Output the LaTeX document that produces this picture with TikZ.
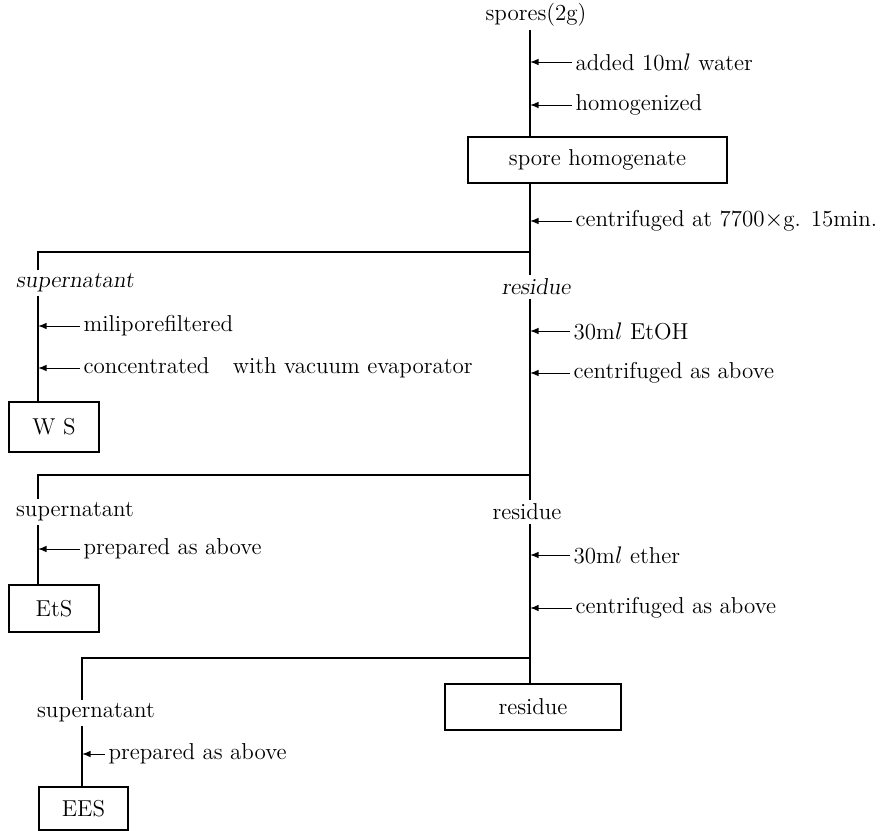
\documentclass[tikz,border=0pt]{standalone}
\usepackage{amssymb}
\usetikzlibrary{positioning}
\usetikzlibrary{calc}
\usetikzlibrary{arrows}

\begin{document}
\begin{tikzpicture}[x=0.5pt,y=-0.5pt,line width=0.7pt,
  every node/.style={font=\fontsize{11.5}{13}\selectfont,inner sep=1.5pt},
  note/.style={anchor=west},
  stage/.style={draw,inner sep=0pt},
  addarrow/.style={-latex,line width=0.5pt}]
\useasboundingbox (0,0) rectangle (896,831);
\coordinate (mx) at (530,0);
\coordinate (lx) at (38,0);
\coordinate (lxb) at (82,0);
\coordinate (cutA) at (530,252);
\coordinate (cutB) at (530,475);
\coordinate (cutC) at (530,658);

\node[](spores) at (536,15){spores(2g)};
\node[note](addW) at (572,62){added 10m$l$ water};
\node[note](homoW) at (572,105){homogenized};
\node[stage,minimum width=129.5pt,minimum height=23pt](homog) at (597.5,160){spore homogenate};
\node[note](cenA) at (572,221){centrifuged at 7700$\times$g. 15min.};
\node[](supA) at (75,283){\slshape supernatant};
\node[](resA) at (536,287){\slshape residue};
\node[note](milW) at (80,326){miliporefiltered};
\node[note](conW) at (80,368){concentrated\hspace{8pt} with vacuum evaporator};
\node[note](etoh) at (570,331){30m$l$ EtOH};
\node[note](cenB) at (570,373){centrifuged as above};
\node[stage,minimum width=45pt,minimum height=25pt](ws) at (54,427){W S};
\node[](supB) at (75,512){supernatant};
\node[](resB) at (527,512){residue};
\node[note](prepB) at (80,549){prepared as above};
\node[note](ether) at (570,555){30m$l$ ether};
\node[note](cenC) at (572,608){centrifuged as above};
\node[stage,minimum width=45pt,minimum height=23.5pt](ets) at (54,608.5){EtS};
\node[stage,minimum width=88pt,minimum height=23pt](resC) at (533,707){residue};
\node[](supC) at (96,713){supernatant};
\node[note](prepC) at (105,754){prepared as above};
\node[stage,minimum width=44.5pt,minimum height=21.5pt](ees) at (83.5,808.5){EES};

% main line
\path
(spores.south -| mx) edge[] (homog.north -| mx)
(homog.south -| mx) edge[] (resA.north -| mx)
(resA.south -| mx) edge[] (resB.north -| mx)
(resB.south -| mx) edge[] (resC.north -| mx);

% branches
\draw (cutA) -| (supA.north -| lx);
\draw (cutB) -| (supB.north -| lx);
\draw (cutC) -| (supC.north -| lxb);
\path
(supA.south -| lx) edge[] (ws.north -| lx)
(supB.south -| lx) edge[] (ets.north -| lx)
(supC.south -| lxb) edge[] (ees.north -| lxb);

% additions
\path
(addW.west) edge[addarrow] (addW.west -| mx)
(homoW.west) edge[addarrow] (homoW.west -| mx)
(cenA.west) edge[addarrow] (cenA.west -| mx)
(etoh.west) edge[addarrow] (etoh.west -| mx)
(cenB.west) edge[addarrow] (cenB.west -| mx)
(ether.west) edge[addarrow] (ether.west -| mx)
(cenC.west) edge[addarrow] (cenC.west -| mx)
(milW.west) edge[addarrow] (milW.west -| lx)
(conW.west) edge[addarrow] (conW.west -| lx)
(prepB.west) edge[addarrow] (prepB.west -| lx)
(prepC.west) edge[addarrow] (prepC.west -| lxb);
\end{tikzpicture}
\end{document}
